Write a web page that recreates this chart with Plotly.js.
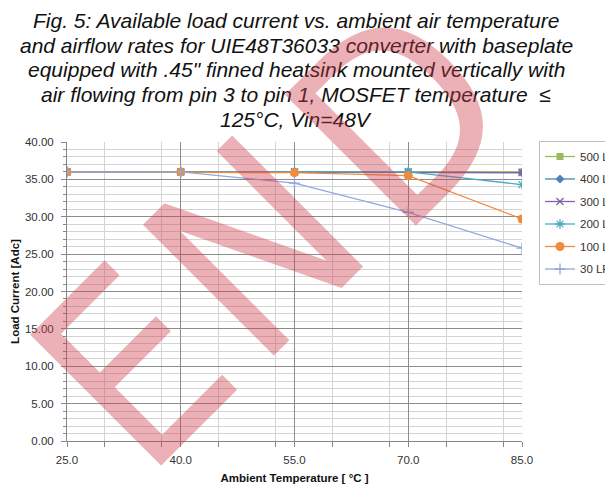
<!DOCTYPE html>
<html>
<head>
<meta charset="utf-8">
<script src="https://cdn.plot.ly/plotly-3.0.1.min.js"></script>
<style>
  html, body { margin: 0; padding: 0; background: #ffffff; }
  #chart { width: 605px; height: 487px; }
</style>
</head>
<body>
<div id="chart"></div>
<script>
// Ambient temperature (°C)
const temperatures = [25, 40, 55, 70, 85];

// Load current (Adc) for each airflow rate
const seriesNames = ["500 LFM", "400 LFM", "300 LFM", "200 LFM", "100 LFM", "30 LFM"];
const lfm500 = [36.0, 36.0, 36.0, 36.0, 36.0];
const lfm400 = [36.0, 36.0, 36.0, 36.0, 35.9];
const lfm300 = [36.0, 36.0, 36.0, 36.0, 35.9];
const lfm200 = [36.0, 36.0, 36.0, 36.0, 34.3];
const lfm100 = [36.0, 36.0, 35.9, 35.5, 29.7];
const lfm30  = [36.0, 36.0, 34.5, 30.6, 25.8];
const seriesValues = [lfm500, lfm400, lfm300, lfm200, lfm100, lfm30];

const titleLines = [
  "Fig. 5: Available load current vs. ambient air temperature",
  "and airflow rates for UIE48T36033 converter with baseplate",
  "equipped with .45\" finned heatsink mounted vertically with",
  "air flowing from pin 3 to pin 1, MOSFET temperature  \u2264",
  "125\u00B0C, Vin=48V"
];
const xTitle = "Ambient Temperature [ \u00B0C ]";
const yTitle = "Load Current [Adc]";
const watermarkLetters = ["E", "N", "D"];

const colors = ["#9BBB59", "#4F81BD", "#8064A2", "#4BACC6", "#F08A3C", "#8FA9DC"];
const symbols = ["square", "diamond", "x-thin-open", "asterisk-open", "circle", "cross-thin-open"];
const sizes = [7, 7, 7, 8, 9, 8];

const traces = seriesNames.map((name, i) => ({
  type: "scatter",
  mode: "lines+markers",
  name: name,
  legendgroup: "g" + i,
  x: temperatures,
  y: seriesValues[i],
  line: { color: colors[i], width: 1.3 },
  marker: {
    symbol: symbols[i],
    size: sizes[i],
    color: colors[i],
    line: { color: colors[i], width: (symbols[i].indexOf("open") >= 0) ? 1.3 : 0 }
  }
}));

const FONT = "Liberation Sans, Arial, sans-serif";
const tickFont = { family: FONT, size: 11.5, color: "#333333" };

// Geometry of the plot area in pixels (used to place annotations in paper units)
const plotLeft = 66.7, plotRight = 522, plotTop = 142, plotBottom = 440.7;
const pw = plotRight - plotLeft, ph = plotBottom - plotTop;
const titleCenterX = 296;
const titleCenterY = [21.0, 46.0, 69.4, 94.4, 120.0];

const annotations = titleLines.map((t, i) => ({
  text: t,
  xref: "paper", yref: "paper",
  x: (titleCenterX - plotLeft) / pw,
  y: (plotBottom - titleCenterY[i]) / ph,
  xanchor: "center", yanchor: "middle",
  showarrow: false,
  font: { family: FONT, size: 21, color: "#111111", style: "italic" }
}));

// watermark letter centres (pixels)
const wmPos = [[134, 368], [256, 249], [400, 117]];
watermarkLetters.forEach((ch, i) => {
  annotations.push({
    text: ch,
    xref: "paper", yref: "paper",
    x: (wmPos[i][0] - plotLeft) / pw, y: (plotBottom - wmPos[i][1]) / ph,
    xanchor: "center", yanchor: "middle",
    showarrow: false,
    textangle: -45,
    font: { family: "DejaVu Sans Condensed, Liberation Sans, sans-serif", size: 254, color: "rgba(205,60,75,0.4)" }
  });
});

const layout = {
  width: 605,
  height: 487,
  paper_bgcolor: "#ffffff",
  plot_bgcolor: "#ffffff",
  margin: { l: plotLeft, r: 605 - plotRight, t: plotTop, b: 487 - plotBottom, autoexpand: false },
  showlegend: true,
  legend: {
    x: (539 - plotLeft) / pw,
    xanchor: "left",
    y: (plotBottom - 141) / ph,
    yanchor: "top",
    bgcolor: "#ffffff",
    bordercolor: "#BFBFBF",
    borderwidth: 1,
    traceorder: "grouped",
    tracegroupgap: 3.5,
    font: { family: FONT, size: 11.5, color: "#333333" }
  },
  xaxis: {
    range: [25, 85],
    tick0: 25,
    dtick: 15,
    tickformat: ".1f",
    ticks: "outside",
    ticklen: 5,
    tickcolor: "#868686",
    ticklabelstandoff: 3,
    showline: true,
    linecolor: "#868686",
    linewidth: 1,
    showgrid: true,
    gridcolor: "#8C8C8C",
    gridwidth: 1,
    zeroline: false,
    tickfont: tickFont,
    minor: { dtick: 7.5, showgrid: true, gridcolor: "#D4D4D4", ticks: "outside", ticklen: 5, tickcolor: "#868686" },
    title: {
      text: xTitle,
      font: { family: FONT, size: 11.5, color: "#111111", weight: "bold" },
      standoff: 9
    }
  },
  yaxis: {
    range: [0, 40],
    tick0: 0,
    dtick: 5,
    tickformat: ".2f",
    ticks: "outside",
    ticklen: 5,
    tickcolor: "#868686",
    ticklabelstandoff: 5,
    showline: true,
    linecolor: "#868686",
    linewidth: 1,
    showgrid: true,
    gridcolor: "#8C8C8C",
    gridwidth: 1,
    zeroline: false,
    tickfont: tickFont,
    minor: { dtick: 1, showgrid: true, gridcolor: "#D4D4D4", ticks: "outside", ticklen: 3, tickcolor: "#868686" },
    title: {
      text: yTitle,
      font: { family: FONT, size: 11.5, color: "#111111", weight: "bold" },
      standoff: 2
    }
  },
  annotations: annotations
};

Plotly.newPlot("chart", traces, layout, { displayModeBar: false, staticPlot: true });
</script>
</body>
</html>
